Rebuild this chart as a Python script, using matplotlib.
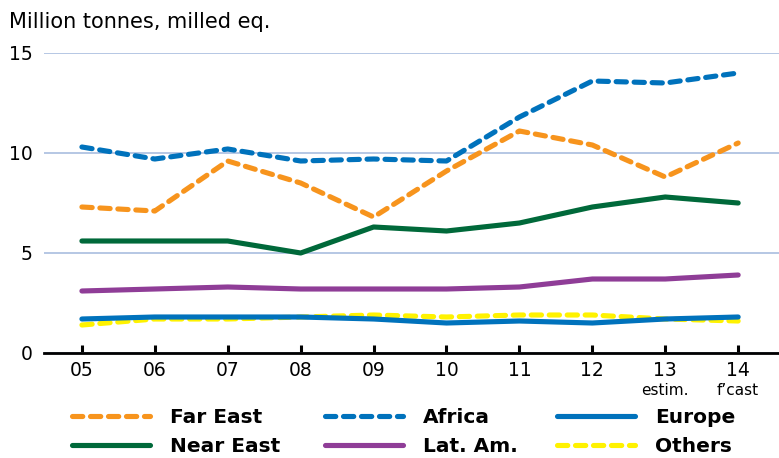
import matplotlib.pyplot as plt
from matplotlib.lines import Line2D

plt.rcParams['font.family'] = ['DejaVu Sans']

years = [5, 6, 7, 8, 9, 10, 11, 12, 13, 14]
year_labels = ['05', '06', '07', '08', '09', '10', '11', '12', '13', '14']

far_east = [7.3, 7.1, 9.6, 8.5, 6.8, 9.1, 11.1, 10.4, 8.8, 10.5]
africa = [10.3, 9.7, 10.2, 9.6, 9.7, 9.6, 11.8, 13.6, 13.5, 14.0]
europe = [1.7, 1.8, 1.8, 1.8, 1.7, 1.5, 1.6, 1.5, 1.7, 1.8]
near_east = [5.6, 5.6, 5.6, 5.0, 6.3, 6.1, 6.5, 7.3, 7.8, 7.5]
lat_am = [3.1, 3.2, 3.3, 3.2, 3.2, 3.2, 3.3, 3.7, 3.7, 3.9]
others = [1.4, 1.7, 1.7, 1.8, 1.9, 1.8, 1.9, 1.9, 1.7, 1.6]

orange = '#f7941d'
blue = '#0072bc'
green = '#00693a'
purple = '#8f3d97'
yellow = '#fff200'

fig = plt.figure(figsize=(7.79, 4.58), dpi=100)
ax = fig.add_axes([44/779, 1 - 353/458, 1 - 44/779, 300/458])

lw = 3.7
dash = (0, (2.0, 1.5))
common = dict(lw=lw, dash_capstyle='round', solid_capstyle='round', solid_joinstyle='round')
ax.plot(years, others, color=yellow, ls=dash, **common)
ax.plot(years, europe, color=blue, **common)
ax.plot(years, lat_am, color=purple, **common)
ax.plot(years, near_east, color=green, **common)
ax.plot(years, far_east, color=orange, ls=dash, **common)
ax.plot(years, africa, color=blue, ls=dash, **common)

ax.set_xlim(4.48, 14.56)
ax.set_ylim(0, 15)
ax.set_yticks([0, 5, 10, 15])
ax.yaxis.grid(True, color='#a9bddf', lw=1.2)
ax.set_axisbelow(True)
ax.tick_params(axis='y', length=0, labelsize=13.5, pad=8)
ax.set_xticks(years)
ax.set_xticklabels(year_labels)
ax.tick_params(axis='x', length=6, width=2.2, direction='in', labelsize=13.5, pad=6)
for s in ['top', 'right', 'left']:
    ax.spines[s].set_visible(False)
ax.spines['bottom'].set_linewidth(2)
ax.spines['bottom'].set_color('black')

fig.text(9/779, 1 - 28/458, 'Million tonnes, milled eq.', fontsize=15, va='baseline')
xt = ax.get_xaxis_transform()
ax.text(13, -0.1, 'estim.', transform=xt, ha='center', va='top', fontsize=11)
ax.text(14, -0.1, 'f\u2019cast', transform=xt, ha='center', va='top', fontsize=11)

# legend: three columns of two entries each
columns = [
    [('Far East', orange, dash), ('Near East', green, '-')],
    [('Africa', blue, dash), ('Lat. Am.', purple, '-')],
    [('Europe', blue, '-'), ('Others', yellow, dash)],
]
col_x = [72, 325, 557]
for x0, entries in zip(col_x, columns):
    handles = [Line2D([], [], color=c, ls=ls, **common) for _, c, ls in entries]
    labels = [name for name, _, _ in entries]
    fig.legend(handles, labels, loc='center left', bbox_to_anchor=(x0/779, 1 - 432/458),
               frameon=False, prop={'weight': 'bold', 'size': 14.5}, handlelength=3.85,
               handletextpad=1.0, labelspacing=0.5, borderaxespad=0, borderpad=0)

fig.savefig('out.png', dpi=100)
